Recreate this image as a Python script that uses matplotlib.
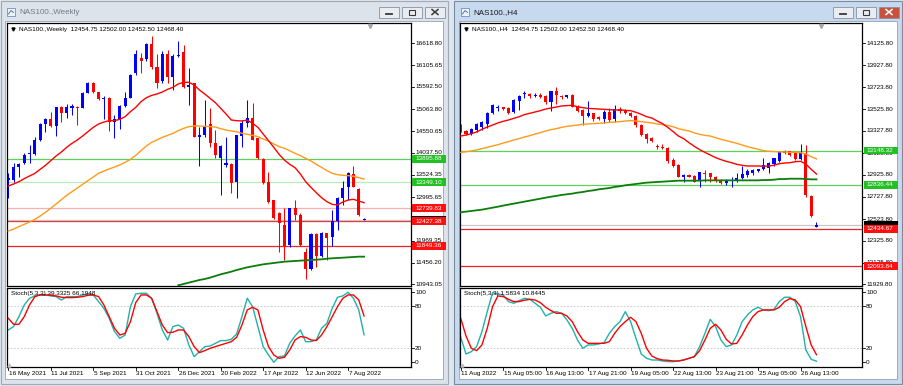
import matplotlib.pyplot as plt
import numpy as np
from matplotlib.patches import Rectangle
from matplotlib.transforms import blended_transform_factory

plt.rcParams['font.family'] = ['Liberation Sans', 'DejaVu Sans']

W, H = 904, 386

# ---------------- NAS100 weekly (16 May 2021 .. 28 Aug 2022) ----------------
wk_open = [13400, 13400, 13698, 13792, 14012, 14012, 14342, 14710, 14828, 14671,
           15111, 14985, 15095, 15119, 15103, 15456, 15676, 15464, 15299, 15338,
           14773, 14812, 15142, 15338, 15912, 16273, 16241, 16594, 16053, 15739,
           16359, 15833, 16320, 16422, 15597, 15676, 14420, 14459, 14710, 14263,
           13925, 13753, 13768, 13360, 14436, 14750, 14852, 14381, 13886, 13360,
           12928, 12614, 12340, 11869, 12732, 12575, 11712, 11296, 12128, 11610,
           12143, 12065, 12434, 12968, 13243, 13541, 13188, 12454.75]
wk_high = [13556, 13792, 13808, 14028, 14224, 14420, 14734, 14868, 15009, 15127,
           15142, 15189, 15189, 15134, 15480, 15715, 15715, 15480, 15385, 15362,
           14930, 15166, 15480, 15888, 16461, 16383, 16634, 16791, 16359, 16445,
           16461, 16367, 16673, 16579, 16029, 15692, 14656, 15283, 15103, 14577,
           14224, 14420, 13792, 14470, 14812, 15283, 15221, 14381, 13910, 13596,
           12928, 12654, 12732, 12732, 12928, 12630, 11790, 12159, 12159, 12183,
           12159, 12693, 13007, 13384, 13596, 13729, 13203, 12502.00]
wk_low = [12968, 13360, 13478, 13776, 13808, 13988, 14326, 14538, 14656, 14436,
          14773, 14852, 14930, 14695, 15087, 15440, 15440, 15283, 14828, 14561,
          14381, 14601, 15127, 15323, 15872, 15912, 16210, 16006, 15558, 15692,
          15676, 15519, 16304, 15558, 15166, 14404, 13729, 14420, 14185, 13910,
          13046, 13714, 13101, 12968, 14185, 14656, 14342, 13886, 13305, 12850,
          12473, 11712, 11515, 11830, 12458, 11845, 11060, 11280, 11343, 11594,
          11515, 11845, 12222, 12811, 12928, 13243, 12552, 12452.50]
wk_close = [13439, 13713, 13776, 13988, 14043, 14342, 14710, 14828, 14679, 15111,
            14985, 15111, 15134, 15103, 15456, 15676, 15464, 15299, 15338, 14773,
            14828, 15142, 15338, 15872, 16359, 16210, 16594, 16053, 15692, 16359,
            15833, 16320, 16351, 15597, 15637, 14420, 14451, 14656, 14263, 13988,
            14200, 13808, 13321, 14459, 14750, 14852, 14342, 13910, 13321, 12889,
            12497, 12379, 11845, 12732, 12575, 11869, 11296, 12128, 11610, 12143,
            12026, 12434, 12968, 13203, 13572, 13243, 12575, 12468.40]
wk_ma_red = [13258, 13305, 13360, 13431, 13494, 13556, 13651, 13745, 13855, 13965,
             14059, 14169, 14263, 14342, 14436, 14538, 14640, 14718, 14765, 14797,
             14797, 14828, 14891, 15009, 15111, 15244, 15338, 15393, 15425, 15472,
             15535, 15582, 15660, 15700, 15700, 15637, 15519, 15425, 15323, 15221,
             15087, 14954, 14812, 14797, 14789, 14812, 14734, 14640, 14483, 14326,
             14169, 14004, 13870, 13768, 13690, 13541, 13360, 13227, 13101, 12983,
             12889, 12826, 12811, 12881, 12928, 12944, 12905, 12866]
wk_ma_orange = [12198, 12245, 12300, 12355, 12410, 12473, 12552, 12638, 12732, 12834,
                12936, 13038, 13125, 13211, 13297, 13384, 13470, 13557, 13611, 13659,
                13706, 13753, 13816, 13886, 13980, 14090, 14200, 14287, 14342, 14404,
                14451, 14499, 14561, 14616, 14656, 14671, 14671, 14663, 14656, 14648,
                14608, 14577, 14553, 14538, 14499, 14475, 14451, 14420, 14365, 14318,
                14247, 14185, 14145, 14090, 14028, 13973, 13910, 13847, 13768, 13698,
                13619, 13557, 13525, 13509, 13502, 13486, 13455, 13423]
wk_ma_green = [None] * 32 + [
    10919, 10950, 10982, 11013, 11045, 11068, 11100, 11139, 11178, 11209,
    11241, 11280, 11311, 11343, 11366, 11390, 11413, 11429, 11445, 11461,
    11476, 11484, 11492, 11500, 11508, 11515, 11523, 11531, 11547, 11555,
    11563, 11570, 11578, 11586, 11594, 11594]
wk_stoch_main = [46.2, 51.0, 65.2, 81.9, 91.4, 94.8, 96.2, 96.2, 94.8, 93.8,
                 89.0, 93.8, 93.8, 93.8, 96.2, 97.6, 96.2, 86.7, 77.1, 62.9,
                 43.8, 34.3, 39.0, 79.5, 97.6, 98.6, 98.6, 91.4, 70.0, 46.2,
                 31.9, 51.0, 53.3, 48.6, 24.8, 8.1, 15.2, 22.4, 23.3, 27.1,
                 31.0, 31.0, 32.9, 40.5, 65.2, 91.4, 79.5, 51.0, 22.4, 10.5,
                 0.0, 8.1, 9.0, 27.1, 37.6, 46.2, 29.5, 29.5, 31.9, 48.6,
                 55.7, 77.1, 92.9, 94.8, 100.0, 91.4, 74.8, 39.3325]
wk_stoch_signal = [62.9, 54.3, 54.3, 65.2, 81.9, 93.8, 96.2, 96.2, 95.7, 94.8,
                   92.9, 92.4, 92.4, 92.9, 93.8, 95.7, 96.2, 93.8, 81.9, 65.2,
                   48.6, 39.0, 41.4, 58.1, 85.2, 96.2, 96.2, 91.4, 72.4, 53.3,
                   42.4, 42.9, 46.2, 46.2, 36.7, 22.4, 13.8, 16.7, 20.0, 22.4,
                   24.8, 27.1, 29.5, 35.7, 53.3, 74.8, 78.6, 74.8, 46.2, 22.4,
                   10.5, 5.7, 7.1, 17.6, 31.9, 36.7, 35.7, 31.9, 31.0, 39.0,
                   51.0, 65.2, 79.5, 91.4, 96.2, 96.2, 89.0, 66.1948]
# 12482.50 sits fully under the bid/level labels in the reference, so it is left out
wk_price_ticks = [16618.80, 16105.65, 15592.50, 15063.80, 14550.65, 14037.50,
                  13524.35, 12995.65, 11969.35, 11456.20, 10943.05]
wk_levels = [13895.88, 13349.10, 12739.83, 12427.38, 11849.36]
wk_time_labels = ['16 May 2021', '11 Jul 2021', '5 Sep 2021', '31 Oct 2021',
                  '26 Dec 2021', '20 Feb 2022', '17 Apr 2022', '12 Jun 2022',
                  '7 Aug 2022']

# ---------------- NAS100 H4 (11 Aug 21:00 .. 29 Aug 01:00) ----------------
h4_open = [13381, 13330, 13300, 13336, 13366, 13390, 13488, 13539, 13542, 13539,
           13503, 13603, 13667, 13661, 13649, 13655, 13646, 13594, 13691, 13643,
           13634, 13655, 13555, 13518, 13463, 13488, 13451, 13433, 13503, 13433,
           13524, 13518, 13494, 13463, 13381, 13296, 13266, 13187, 13184, 13175,
           13062, 13017, 12911, 12926, 12920, 12880, 12947, 12941, 12911, 12880,
           12850, 12868, 12874, 12895, 12929, 12941, 12965, 12977, 12987, 13023,
           13056, 13147, 13144, 13123, 13069, 13129, 12735, 12454.75]
h4_high = [13387, 13336, 13351, 13397, 13418, 13503, 13573, 13564, 13548, 13548,
           13615, 13655, 13691, 13676, 13670, 13676, 13655, 13694, 13731, 13655,
           13655, 13661, 13564, 13524, 13603, 13494, 13463, 13518, 13539, 13564,
           13542, 13524, 13503, 13472, 13387, 13305, 13275, 13205, 13205, 13184,
           13078, 13023, 12932, 12932, 12926, 12956, 12971, 12947, 12920, 12886,
           12886, 12911, 12941, 13008, 12977, 12977, 12983, 13078, 13044, 13084,
           13147, 13154, 13147, 13129, 13208, 13199, 12741, 12502.00]
h4_low = [13321, 13293, 13293, 13321, 13336, 13351, 13482, 13512, 13518, 13482,
          13494, 13518, 13624, 13630, 13640, 13624, 13573, 13512, 13573, 13618,
          13624, 13542, 13503, 13381, 13451, 13421, 13427, 13397, 13412, 13412,
          13494, 13482, 13451, 13366, 13281, 13214, 13230, 13163, 13163, 13032,
          12996, 12905, 12859, 12905, 12859, 12813, 12865, 12865, 12865, 12841,
          12835, 12813, 12865, 12889, 12911, 12926, 12956, 12971, 12947, 13008,
          13047, 13117, 13102, 13062, 13062, 12728, 12546, 12452.50]
h4_close = [13330, 13300, 13345, 13388, 13412, 13494, 13564, 13545, 13527, 13494,
            13609, 13649, 13673, 13646, 13655, 13640, 13594, 13691, 13655, 13634,
            13652, 13548, 13512, 13463, 13488, 13433, 13436, 13503, 13427, 13527,
            13512, 13494, 13463, 13381, 13290, 13251, 13236, 13178, 13169, 13056,
            13008, 12911, 12926, 12911, 12865, 12950, 12932, 12911, 12874, 12850,
            12880, 12877, 12902, 12935, 12959, 12971, 12977, 13017, 13038, 13078,
            13138, 13123, 13108, 13069, 13129, 12744, 12552, 12468.40]
h4_ma_red = [13281, 13290, 13302, 13318, 13342, 13363, 13381, 13400, 13415, 13427,
             13442, 13457, 13476, 13488, 13500, 13512, 13527, 13536, 13545, 13555,
             13558, 13561, 13548, 13539, 13533, 13530, 13527, 13524, 13521, 13518,
             13518, 13515, 13512, 13497, 13479, 13457, 13445, 13418, 13394, 13360,
             13321, 13281, 13257, 13220, 13187, 13157, 13132, 13108, 13084, 13066,
             13050, 13038, 13023, 13014, 13008, 13008, 13008, 13005, 13008, 13014,
             13029, 13035, 13038, 13047, 13050, 13026, 12978, 12935]
h4_ma_orange = [13132, 13138, 13145, 13154, 13166, 13178, 13190, 13202, 13217, 13230,
                13245, 13257, 13272, 13284, 13299, 13312, 13327, 13339, 13348, 13360,
                13369, 13375, 13381, 13388, 13391, 13394, 13397, 13400, 13406, 13409,
                13412, 13418, 13421, 13418, 13412, 13406, 13400, 13391, 13384, 13378,
                13366, 13348, 13336, 13327, 13309, 13296, 13287, 13281, 13266, 13251,
                13239, 13227, 13214, 13199, 13184, 13172, 13160, 13148, 13142, 13139,
                13136, 13136, 13132, 13132, 13129, 13117, 13093, 13072]
h4_ma_green = [12586, 12592, 12598, 12604, 12610, 12619, 12628, 12637, 12647, 12656,
               12665, 12674, 12683, 12692, 12701, 12710, 12719, 12728, 12735, 12744,
               12750, 12756, 12765, 12771, 12780, 12786, 12795, 12801, 12807, 12817,
               12823, 12832, 12838, 12844, 12850, 12856, 12859, 12862, 12865, 12868,
               12871, 12874, 12874, 12874, 12874, 12874, 12877, 12877, 12877, 12877,
               12877, 12877, 12877, 12877, 12877, 12877, 12877, 12880, 12880, 12883,
               12889, 12889, 12892, 12892, 12892, 12889, 12886, 12886]
h4_stoch_main = [35.7, 11.9, 15.2, 22.4, 43.8, 72.4, 99.5, 97.6, 96.2, 86.7,
                 84.3, 88.1, 91.4, 90.0, 84.3, 78.6, 66.2, 70.0, 72.4, 70.0,
                 60.5, 48.6, 31.9, 20.0, 24.8, 24.8, 26.2, 28.1, 41.4, 51.0,
                 58.1, 72.4, 58.1, 34.3, 11.9, 5.7, 3.3, 3.3, 1.9, 1.0,
                 1.0, 1.9, 3.3, 5.7, 8.1, 22.4, 41.4, 61.4, 51.0, 31.9,
                 22.4, 24.8, 39.0, 58.1, 67.6, 74.8, 78.6, 74.8, 73.8, 75.7,
                 86.7, 92.9, 92.9, 86.7, 65.2, 17.6, 4.3, 1.5834]
h4_stoch_signal = [62.9, 37.6, 20.0, 16.7, 24.8, 48.6, 79.5, 94.8, 93.8, 90.0,
                   86.7, 86.7, 88.6, 90.0, 89.0, 85.2, 78.6, 73.8, 70.0, 70.0,
                   66.2, 58.1, 43.8, 31.9, 27.1, 27.1, 27.1, 27.1, 29.5, 41.4,
                   51.0, 58.1, 64.3, 58.1, 41.4, 20.0, 9.0, 5.2, 3.3, 2.9,
                   1.9, 1.9, 3.3, 5.7, 8.1, 16.7, 31.9, 48.6, 54.3, 46.2,
                   32.9, 26.2, 27.1, 39.0, 53.3, 65.2, 72.4, 74.8, 74.8, 74.8,
                   78.6, 86.7, 91.0, 89.0, 79.5, 51.0, 24.8, 10.8445]
h4_price_ticks = [14125.80, 13927.80, 13723.80, 13525.80, 13327.80, 13125.80,
                  12925.80, 12727.80, 12523.80, 12325.80, 12125.80, 11929.80]
h4_levels = [13148.32, 12836.44, 12434.67, 12093.84]
h4_time_labels = ['11 Aug 2022', '15 Aug 05:00', '16 Aug 13:00', '17 Aug 21:00',
                  '19 Aug 05:00', '22 Aug 13:00', '23 Aug 21:00', '25 Aug 05:00',
                  '26 Aug 13:00']

FS = 4.6

fig = plt.figure(figsize=(W / 100, H / 100), dpi=100)
fig.patch.set_facecolor('#dde5ee')
bg = fig.add_axes([0, 0, 1, 1])
bg.set_xlim(0, W)
bg.set_ylim(H, 0)
bg.axis('off')

# overlay for texts that sit inside the chart panels
fg = fig.add_axes([0, 0, 1, 1])
fg.set_xlim(0, W)
fg.set_ylim(H, 0)
fg.axis('off')
fg.set_zorder(10)


def px_axes(x0, y0, x1, y1):
    return fig.add_axes([x0 / W, 1 - y1 / H, (x1 - x0) / W, (y1 - y0) / H])


def draw_window(x0, x1, title, active):
    frame = '#c6d9ee' if active else '#dde3ea'
    edge = '#7b8ca0' if active else '#a0aab5'
    bg.add_patch(Rectangle((x0 + 0.5, 0.5), x1 - x0 - 1, 383, fc=frame, ec=edge, lw=0.8))
    bg.add_patch(Rectangle((x0 + 5.5, 21), x1 - x0 - 11, 358, fc='white', ec='#97a3b0', lw=0.6))
    # little chart icon
    bg.add_patch(Rectangle((x0 + 7, 8), 8, 8, fc='#eef3fa', ec='#5b7fb3', lw=0.5))
    bg.plot([x0 + 8.5, x0 + 11, x0 + 13.5], [14, 10.5, 12.5], color='#3a66a8', lw=0.6)
    bg.text(x0 + 19, 13, title, fontsize=5.8, va='center',
            color='#1a1a1a' if active else '#6f7b88')
    # caption buttons
    for k, (b0, b1) in enumerate([(x1 - 70, x1 - 50), (x1 - 47, x1 - 27), (x1 - 24, x1 - 4)]):
        fc = '#c9523f' if (active and k == 2) else '#e9edf2'
        bg.add_patch(Rectangle((b0, 6.5), b1 - b0, 11, fc=fc, ec='#8793a1', lw=0.6))
        gc = 'white' if (active and k == 2) else '#3a3a3a'
        cx = (b0 + b1) / 2
        if k == 0:
            bg.plot([cx - 3, cx + 3], [13.5, 13.5], color=gc, lw=1.3)
        elif k == 1:
            bg.add_patch(Rectangle((cx - 3, 9.5), 6, 5, fc='none', ec=gc, lw=0.8))
        else:
            bg.plot([cx - 3, cx + 3], [9.5, 14.5], color=gc, lw=1.1)
            bg.plot([cx - 3, cx + 3], [14.5, 9.5], color=gc, lw=1.1)


def draw_chart(x0, x1, bar0, step, ptop, pbot, o, hi, lo, c, ma_red, ma_orange, ma_green,
               st_main, st_sig, price_ticks, levels, level_line_colors, level_box_colors,
               name, time_labels):
    o, hi, lo, c = (np.asarray(a, float) for a in (o, hi, lo, c))
    xs = np.arange(len(o))
    wpx = x1 - x0
    xlim = ((x0 - bar0) / step, (x1 - bar0) / step)

    axp = px_axes(x0, 23, x1, 286)
    axs = px_axes(x0, 288, x1, 367)
    for ax in (axp, axs):
        ax.set_xlim(*xlim)
        ax.set_xticks([])
        ax.set_yticks([])
        for s in ax.spines.values():
            s.set_color('black')
            s.set_linewidth(0.9)
    axp.set_ylim(pbot, ptop)
    axs.set_ylim(-6.7, 106.1)
    pp = (ptop - pbot) / 263.0
    trp = blended_transform_factory(axp.transAxes, axp.transData)
    trs = blended_transform_factory(axs.transAxes, axs.transData)

    # horizontal levels + bid line
    for v, lc in zip(levels, level_line_colors):
        axp.axhline(v, color=lc, lw=0.9, zorder=1)
    bid = c[-1]
    axp.axhline(bid, color='#c8c8c8', lw=0.9, zorder=1)

    # candles
    col = np.where(c >= o, '#0000ff', '#ff0000')
    axp.vlines(xs, lo, hi, colors=col, lw=0.75, zorder=2)
    axp.bar(xs, np.maximum(np.abs(c - o), pp), bottom=np.minimum(o, c), width=0.58,
            color=col, lw=0, zorder=2)

    # moving averages
    g = np.array([np.nan if v is None else v for v in ma_green], float)
    axp.plot(xs, g, color='#0b7d0b', lw=1.3, zorder=3)
    axp.plot(xs, ma_orange, color='#ff9a1a', lw=1.0, zorder=3)
    axp.plot(xs, ma_red, color='#ff0000', lw=1.0, zorder=3)

    # price scale
    for v in price_ticks:
        axp.plot([1, 1 + 3 / wpx], [v, v], transform=trp, color='k', lw=0.6, clip_on=False)
        axp.text(1 + 4 / wpx, v, f'{v:.2f}', transform=trp, fontsize=FS, va='center',
                 ha='left', clip_on=False, zorder=3)
    axp.add_patch(Rectangle((1 + 1.5 / wpx, bid - 4 * pp), 34 / wpx, 8 * pp, transform=trp,
                            fc='black', ec='none', clip_on=False, zorder=4))
    for v, bc in zip(levels, level_box_colors):
        axp.add_patch(Rectangle((1 + 1.5 / wpx, v - 3.8 * pp), 34 / wpx, 7.6 * pp, transform=trp,
                                fc=bc, ec='none', clip_on=False, zorder=5))
        axp.text(1 + 4 / wpx, v, f'{v:.2f}', transform=trp, fontsize=FS, color='white',
                 va='center', ha='left', clip_on=False, zorder=6)

    # stochastic
    for lvl in (80, 20):
        axs.axhline(lvl, color='#c4c4c4', lw=0.6, ls=(0, (2, 2)))
    axs.plot(xs, st_main, color='#20b2aa', lw=1.0)
    axs.plot(xs, st_sig, color='#ff0000', lw=1.0)
    for v in (100, 80, 20, 0):
        axs.plot([1, 1 + 3 / wpx], [v, v], transform=trs, color='k', lw=0.6, clip_on=False)
        axs.text(1 + 4 / wpx, v, str(v), transform=trs, fontsize=FS, va='center',
                 ha='left', clip_on=False)
    fg.text(x0 + 4, 293.5, f'Stoch(5,3,3) {st_main[-1]:.4f} {st_sig[-1]:.4f}',
            fontsize=FS, va='center')
    fg.plot(x0 + 2.5, 364.5, marker='^', ms=2.2, color='#c0c0c0')

    # header and markers
    fg.plot(x0 + 6, 29, marker='v', ms=2.2, color='k')
    fg.text(x0 + 12, 29, f'{name}  {o[-1]:.2f} {hi[-1]:.2f} {lo[-1]:.2f} {c[-1]:.2f}',
            fontsize=FS, va='center')
    fg.plot(x1 - 41, 25.5, marker='v', ms=3, color='#a8a8a8')

    # time scale
    for k, lab in enumerate(time_labels):
        bx = bar0 + 8 * k * step
        bg.plot([bx, bx], [367, 370], color='k', lw=0.6)
        bg.text(bx + 0.5, 373.5, lab, fontsize=FS, va='center', ha='left')


draw_window(0, 449, 'NAS100.,Weekly', False)
draw_window(454, 903, 'NAS100.,H4', True)

draw_chart(7, 411, 8.3, 5.31, 17097, 10903,
           wk_open, wk_high, wk_low, wk_close, wk_ma_red, wk_ma_orange, wk_ma_green,
           wk_stoch_main, wk_stoch_signal, wk_price_ticks, wk_levels,
           ['#5cd35c', '#b7ecb7', '#f6b0b0', '#ee2424', '#ee2424'],
           ['#22c022', '#22c022', '#ff1010', '#ff1010', '#ff1010'],
           'NAS100.,Weekly', wk_time_labels)

draw_chart(460, 862, 460.7, 5.31, 14310.8, 11914.3,
           h4_open, h4_high, h4_low, h4_close, h4_ma_red, h4_ma_orange, h4_ma_green,
           h4_stoch_main, h4_stoch_signal, h4_price_ticks, h4_levels,
           ['#5cd35c', '#5cd35c', '#ee2424', '#ee2424'],
           ['#22c022', '#22c022', '#ff1010', '#ff1010'],
           'NAS100.,H4', h4_time_labels)

fig.savefig('out.png', dpi=100, facecolor=fig.get_facecolor())
